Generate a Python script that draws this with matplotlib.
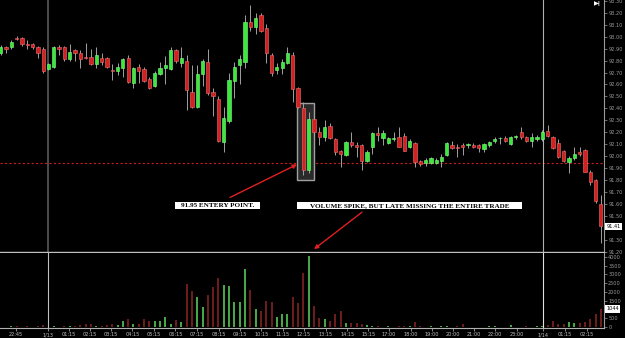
import matplotlib
matplotlib.use('Agg')
import matplotlib.pyplot as plt
from matplotlib.patches import Rectangle
from matplotlib.transforms import blended_transform_factory

# 15 min candles
opens = [92.86, 92.91, 92.91, 92.99, 92.99, 92.94, 92.94, 92.91, 92.90, 92.73,
         92.75, 92.91, 92.91, 92.81, 92.89, 92.86, 92.83, 92.83, 92.77, 92.82,
         92.82, 92.72, 92.71, 92.74, 92.82, 92.61, 92.75, 92.73, 92.65, 92.59,
         92.69, 92.74, 92.73, 92.89, 92.78, 92.80, 92.54, 92.41, 92.69, 92.79,
         92.54, 92.48, 92.12, 92.29, 92.63, 92.76, 92.79, 93.12, 93.08, 93.18,
         93.07, 92.85, 92.72, 92.74, 92.78, 92.85, 92.57, 92.40, 91.88, 92.31,
         92.20, 92.16, 92.25, 92.14, 92.04, 92.01, 92.12, 92.09, 92.09, 91.96,
         92.08, 92.19, 92.15, 92.11, 92.14, 92.16, 92.17, 92.08, 92.11, 91.96,
         91.94, 91.94, 91.94, 91.96, 92.01, 92.09, 92.08, 92.09, 92.09, 92.09,
         92.09, 92.06, 92.09, 92.13, 92.15, 92.15, 92.10, 92.16, 92.20, 92.16,
         92.13, 92.14, 92.14, 92.21, 92.16, 92.11, 92.04, 91.95, 91.98, 92.03,
         92.05, 91.87, 91.80, 91.60]
highs = [92.93, 92.92, 92.97, 93.01, 93.00, 92.97, 92.95, 92.92, 92.91, 92.78,
         92.92, 92.93, 92.92, 92.94, 92.90, 92.89, 92.95, 92.90, 92.91, 92.86,
         92.83, 92.77, 92.78, 92.82, 92.85, 92.75, 92.77, 92.75, 92.66, 92.71,
         92.79, 92.84, 92.91, 92.90, 92.91, 92.85, 92.76, 92.76, 92.81, 92.90,
         92.57, 92.50, 92.41, 92.70, 92.79, 92.85, 93.18, 93.27, 93.20, 93.20,
         93.11, 92.86, 92.78, 92.81, 92.91, 92.87, 92.58, 92.45, 92.37, 92.32,
         92.24, 92.30, 92.28, 92.15, 92.05, 92.13, 92.20, 92.12, 92.10, 92.05,
         92.20, 92.24, 92.22, 92.16, 92.20, 92.24, 92.19, 92.14, 92.12, 91.97,
         91.98, 91.99, 91.98, 92.02, 92.12, 92.13, 92.10, 92.11, 92.11, 92.11,
         92.10, 92.11, 92.13, 92.16, 92.16, 92.17, 92.17, 92.18, 92.24, 92.17,
         92.19, 92.18, 92.22, 92.26, 92.17, 92.14, 92.05, 92.00, 92.08, 92.08,
         92.06, 91.88, 91.81, 91.67]
lows = [92.85, 92.86, 92.90, 92.97, 92.92, 92.90, 92.90, 92.82, 92.70, 92.72,
        92.74, 92.85, 92.80, 92.80, 92.80, 92.74, 92.81, 92.76, 92.74, 92.76,
        92.74, 92.64, 92.68, 92.66, 92.61, 92.57, 92.61, 92.62, 92.56, 92.58,
        92.68, 92.60, 92.72, 92.78, 92.75, 92.39, 92.40, 92.40, 92.59, 92.51,
        92.34, 92.12, 92.03, 92.28, 92.49, 92.60, 92.74, 93.05, 93.02, 93.04,
        92.78, 92.67, 92.69, 92.69, 92.77, 92.45, 92.40, 91.84, 91.86, 92.19,
        92.09, 92.13, 92.14, 92.01, 91.91, 92.00, 92.08, 91.99, 91.88, 91.95,
        92.02, 92.13, 92.09, 92.10, 92.13, 92.08, 92.04, 92.07, 91.91, 91.92,
        91.92, 91.93, 91.93, 91.91, 92.00, 92.06, 91.99, 92.01, 92.07, 92.07,
        92.03, 92.03, 92.08, 92.11, 92.10, 92.12, 92.09, 92.14, 92.14, 92.12,
        92.08, 92.13, 92.13, 92.16, 92.06, 91.98, 91.95, 91.86, 91.97, 92.00,
        91.87, 91.76, 91.61, 91.27]
closes = [92.91, 92.90, 92.96, 92.98, 92.94, 92.93, 92.91, 92.86, 92.71, 92.77,
          92.91, 92.90, 92.81, 92.87, 92.86, 92.81, 92.82, 92.77, 92.85, 92.79,
          92.75, 92.71, 92.75, 92.81, 92.62, 92.74, 92.71, 92.63, 92.57, 92.70,
          92.74, 92.76, 92.89, 92.80, 92.82, 92.55, 92.41, 92.69, 92.80, 92.53,
          92.50, 92.13, 92.32, 92.64, 92.75, 92.81, 93.12, 93.08, 93.16, 93.05,
          92.86, 92.70, 92.75, 92.79, 92.86, 92.56, 92.41, 91.88, 92.31, 92.20,
          92.16, 92.24, 92.15, 92.03, 92.02, 92.12, 92.09, 92.08, 91.96, 92.03,
          92.19, 92.18, 92.19, 92.15, 92.15, 92.08, 92.04, 92.13, 91.95, 91.93,
          91.97, 91.98, 91.97, 91.99, 92.11, 92.07, 92.07, 92.08, 92.10, 92.08,
          92.07, 92.10, 92.12, 92.14, 92.15, 92.13, 92.16, 92.17, 92.16, 92.13,
          92.16, 92.16, 92.20, 92.17, 92.07, 91.99, 91.96, 91.98, 92.02, 92.02,
          91.87, 91.78, 91.62, 91.41]
volumes = [30, 20, 70, 50, 20, 60, 30, 70, 130, 40,
           70, 40, 50, 100, 60, 130, 190, 190, 80, 100,
           130, 190, 130, 375, 470, 190, 190, 470, 375, 375,
           375, 570, 190, 410, 300, 2460, 2060, 1700, 1140, 1830,
           2310, 2820, 2400, 2350, 1420, 1420, 3310, 2120, 1020, 930,
           1490, 1450, 570, 760, 750, 1700, 1400, 3070, 4050, 1210,
           530, 450, 360, 740, 930, 260, 240, 240, 190, 130,
           70, 50, 40, 50, 40, 60, 80, 60, 300, 50,
           40, 60, 40, 50, 60, 40, 50, 190, 40, 30,
           40, 40, 70, 60, 30, 40, 130, 30, 40, 50,
           40, 60, 70, 130, 360, 190, 190, 280, 260, 260,
           320, 450, 740, 1044]

time_pos = [2.9, 8.9, 12.8, 16.8, 20.8, 24.8, 28.9, 32.9, 37.0, 41.1, 45.0, 49.1, 53.1, 57.1,
            61.2, 65.3, 69.2, 73.1, 77.2, 81.2, 85.1, 89.1, 93.1, 97.2, 102.1, 106.3, 110.4]
time_labels = ['22:45', '1/13', '01:15', '02:15', '03:15', '04:15', '05:15', '06:15', '07:15',
               '08:15', '09:15', '10:15', '11:15', '12:15', '13:15', '14:15', '15:15', '17:00',
               '18:00', '19:00', '20:00', '21:00', '22:00', '23:00', '1/14', '01:15', '02:15']
day_breaks = [8.9, 102.1]
price_ticks = [93.3, 93.2, 93.1, 93.0, 92.9, 92.8, 92.7, 92.6, 92.5, 92.4, 92.3, 92.2,
               92.1, 92.0, 91.9, 91.8, 91.7, 91.6, 91.5, 91.4, 91.3, 91.2]
vol_ticks = [0, 500, 1000, 1500, 2000, 2500, 3000, 3500, 4000]

entry_price = 91.94
entry_idx = 57  # the spike candle

GREEN = '#3ce83c'
RED = '#d42020'
AXC = '#9a9a9a'

fig = plt.figure(figsize=(6.25, 3.38), dpi=100, facecolor='black')
ax = fig.add_axes([0, 0.2544, 0.9664, 0.7456], facecolor='black')
axv = fig.add_axes([0, 0.0296, 0.9664, 0.2219], facecolor='black')

n = len(opens)
xs = list(range(n))
up = [c >= o for o, c in zip(opens, closes)]

# candles
ax.vlines(xs, lows, highs, color='#a0a0a0', lw=0.7, zorder=3)
body_h = [max(abs(c - o), 0.004) for o, c in zip(opens, closes)]
body_b = [min(o, c) for o, c in zip(opens, closes)]
ax.bar(xs, body_h, bottom=body_b, width=0.62,
       color=[GREEN if u else RED for u in up],
       edgecolor=['#80ff80' if u else '#f07070' for u in up], linewidth=0.4, zorder=4)

# box around the spike candles
ax.add_patch(Rectangle((entry_idx - 1.2, 91.80), 3.2, 0.645, facecolor='#2a2a2a',
                       edgecolor='#a0a0a0', lw=1, zorder=2))

ax.axhline(entry_price, color='#c82020', lw=0.8, ls=(0, (2, 2)), zorder=1)
ax.axvline(day_breaks[0], color='#5a5a5a', lw=1.2, zorder=1)
ax.axvline(day_breaks[1], color='#b0b0b0', lw=0.8, zorder=1)

last_close = closes[-1]
last_vol = volumes[-1]

ax.set_xlim(-0.13, 113.6)
ax.set_ylim(91.196, 93.308)
ax.set_xticks([])
ax.yaxis.tick_right()
# the last price box covers the nearest tick label
ax.set_yticks(price_ticks, ['' if abs(p - last_close) < 0.05 else '%.2f' % p for p in price_ticks])
ax.tick_params(axis='y', colors=AXC, labelsize=3.6, length=2, width=0.5, pad=1)
for s in ['top', 'left']:
    ax.spines[s].set_visible(False)
ax.spines['right'].set_color(AXC)
ax.spines['bottom'].set_color('#c0c0c0')
ax.spines['bottom'].set_linewidth(1)

tr = blended_transform_factory(ax.transAxes, ax.transData)
ax.text(1.004, last_close, '%.2f' % last_close, transform=tr, fontsize=3.6, color='black',
        va='center', ha='left', clip_on=False,
        bbox=dict(boxstyle='square,pad=0.25', facecolor='white', edgecolor='none'))

# volume
axv.vlines(xs, 0, volumes, colors=['#5ed85e' if u else '#8c2626' for u in up], lw=1.1)
axv.axvline(day_breaks[0], color='#c0c0c0', lw=0.8)
axv.axvline(day_breaks[1], color='#e0e0e0', lw=0.8)
axv.set_xlim(-0.13, 113.6)
axv.set_ylim(-40, 4220)
axv.yaxis.tick_right()
axv.set_yticks(vol_ticks, ['' if abs(v - last_vol) < 250 else str(v) for v in vol_ticks])
axv.set_xticks(time_pos, time_labels)
axv.tick_params(axis='y', colors=AXC, labelsize=3.6, length=2, width=0.5, pad=1)
axv.tick_params(axis='x', colors='#c0c0c0', labelsize=3.6, length=2, width=0.5, pad=1)
axv.spines['left'].set_visible(False)
axv.spines['top'].set_visible(False)
axv.spines['right'].set_color(AXC)
axv.spines['bottom'].set_color('#b0b0b0')
trv = blended_transform_factory(axv.transAxes, axv.transData)
axv.text(1.004, last_vol, str(last_vol), transform=trv, fontsize=3.6, color='black',
         va='center', ha='left', clip_on=False,
         bbox=dict(boxstyle='square,pad=0.25', facecolor='white', edgecolor='none'))

# notes
W, H = 625.0, 338.0
notes = [((175, 202, 85, 7), '91.95 ENTERY POINT.'),
         ((297, 202, 225, 7), 'VOLUME SPIKE, BUT LATE MISSING THE ENTIRE TRADE')]
for (x0, y0, w, h), txt in notes:
    fig.patches.append(Rectangle((x0 / W, 1 - (y0 + h) / H), w / W, h / H,
                                 transform=fig.transFigure, facecolor='white', edgecolor='none'))
    fig.text((x0 + w / 2) / W, 1 - (y0 + h / 2) / H, txt, ha='center', va='center',
             fontsize=5.1, fontweight='bold', family='Liberation Serif', color='black')

arrow = dict(arrowstyle='-|>', color='#e02020', lw=1, mutation_scale=6, shrinkA=0, shrinkB=0)
ax.annotate('', xy=(entry_idx - 1.2, entry_price - 0.01), xytext=(-67, -33),
            textcoords='offset pixels', arrowprops=arrow)
ax.annotate('', xy=(entry_idx + 2, 91.22), xytext=(48, 37),
            textcoords='offset pixels', arrowprops=arrow)

fig.text(594 / W, 1 - 3 / H, '\u25b6|', fontsize=4.5, color='white', va='center', ha='left',
         fontweight='bold')

fig.savefig('out.png', dpi=100, facecolor='black')
